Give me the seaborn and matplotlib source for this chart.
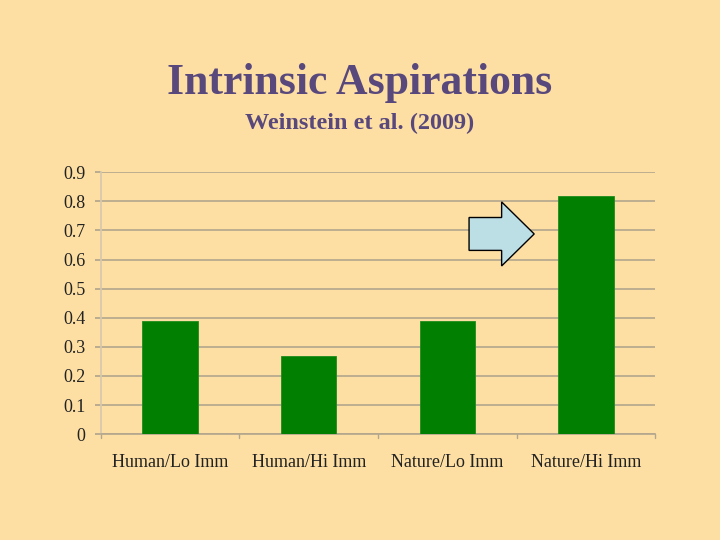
import matplotlib
matplotlib.use("Agg")
import matplotlib.pyplot as plt
import matplotlib.patches as mpatches
import seaborn as sns
import pandas as pd

conditions = ["Human/Lo Imm", "Human/Hi Imm", "Nature/Lo Imm", "Nature/Hi Imm"]
scores = [0.39, 0.27, 0.39, 0.82]
y_ticks = [0, 0.1, 0.2, 0.3, 0.4, 0.5, 0.6, 0.7, 0.8, 0.9]

bg = "#FDDFA3"
title_color = "#59487C"
grid_color = "#B3A68E"

sns.set_theme(style="white")
plt.rcParams["font.family"] = ["Liberation Serif", "DejaVu Serif"]

df = pd.DataFrame({"condition": conditions, "score": scores})

fig = plt.figure(figsize=(7.2, 5.4), dpi=100, facecolor=bg)
ax = fig.add_axes([0.140, 0.196, 0.770, 0.485])
ax.set_facecolor(bg)

sns.barplot(data=df, x="condition", y="score", color="#007F00", saturation=1,
            width=0.40, edgecolor="#1E8C1E", linewidth=0.6, ax=ax, zorder=3)

ax.set_ylim(0, 0.9)
ax.set_xlim(-0.5, 3.5)
ax.set_yticks(y_ticks)
ax.set_yticklabels([f"{t:g}" for t in y_ticks], fontsize=13, color="#222222")
ax.set_xticks([0, 1, 2, 3])
ax.set_xticklabels(conditions, fontsize=13, color="#222222")
ax.tick_params(axis="x", length=0, pad=14)
ax.tick_params(axis="y", length=4, color=grid_color, pad=7, left=True)
ax.yaxis.grid(True, color=grid_color, linewidth=1.2, zorder=0)
ax.set_xlabel("")
ax.set_ylabel("")

# category boundary ticks along the bottom
for b in [-0.5, 0.5, 1.5, 2.5, 3.5]:
    ax.plot([b, b], [0, -0.012], color=grid_color, lw=1, clip_on=False, zorder=1)

for side in ["top", "right"]:
    ax.spines[side].set_visible(False)
ax.spines["left"].set_color("#D6C9AE")
ax.spines["bottom"].set_color(grid_color)
ax.spines["bottom"].set_linewidth(1.2)

# highlight arrow pointing at the last bar
arrow = mpatches.FancyArrow(2.157, 0.688, 0.47, 0, width=0.113, head_width=0.22,
                            head_length=0.235, length_includes_head=True,
                            facecolor="#BCDFE6", edgecolor="black", lw=1, zorder=4)
ax.add_patch(arrow)

fig.text(0.5, 0.846, "Intrinsic Aspirations", ha="center", va="center",
         fontsize=31.5, fontweight="bold", color=title_color)
fig.text(0.5, 0.771, "Weinstein et al. (2009)", ha="center", va="center",
         fontsize=17.5, fontweight="bold", color=title_color)

fig.savefig("out.png", dpi=100, facecolor=bg)
